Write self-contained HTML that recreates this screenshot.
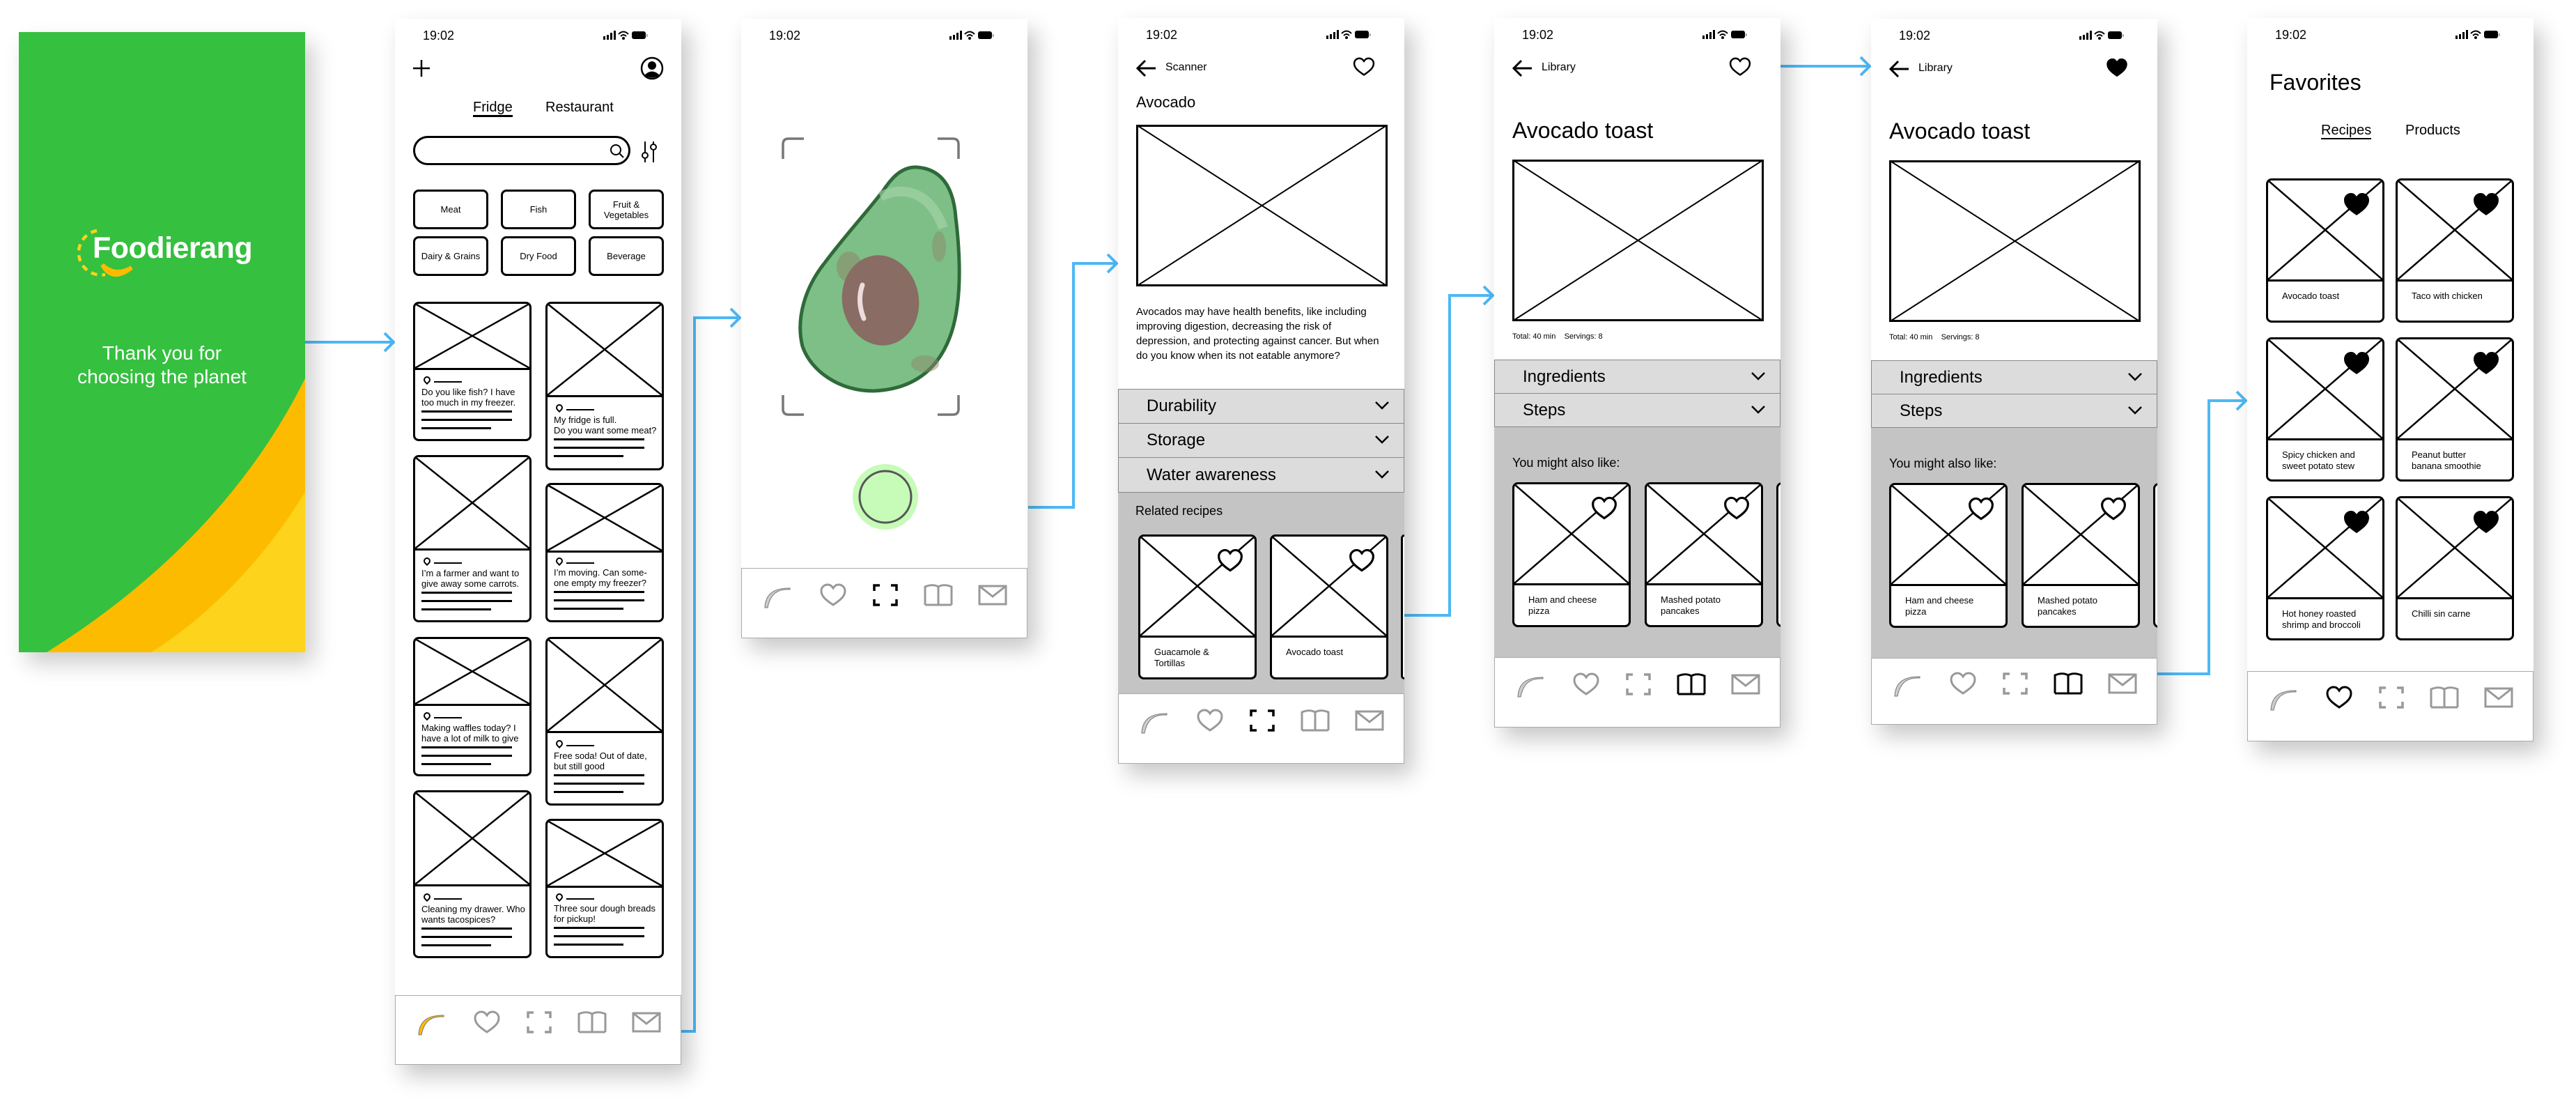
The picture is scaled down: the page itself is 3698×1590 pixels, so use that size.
<!DOCTYPE html>
<html><head><meta charset="utf-8">
<style>
*{box-sizing:border-box;margin:0;padding:0}
body{width:3698px;height:1590px;background:#fff;position:relative;overflow:hidden;font-family:"Liberation Sans",sans-serif;color:#000}
.ph{position:absolute;background:#fff;width:411px;overflow:hidden;box-shadow:12px 16px 30px rgba(0,0,0,.22)}
.ab{position:absolute}
.time{position:absolute;left:40px;top:14px;font-size:18px}
.sb{position:absolute;right:48px;top:16px}
.nav{position:absolute;left:0;right:0;bottom:0;border:1.5px solid #aaa;background:#fff}
.nav svg{position:absolute;width:44px;height:44px}
.card{position:absolute;border:3px solid #000;border-radius:8px;background:#fff;overflow:hidden}
.card svg.x{display:block;width:100%;border-bottom:3px solid #000}
.ft{position:absolute;left:9px;font-size:13px;line-height:15px}
.pin{position:absolute;left:12px;width:10px;height:10px;border:2.5px solid #000;border-radius:50% 50% 50% 0;transform:rotate(-45deg)}
.pl{position:absolute;left:27px;width:40px;height:1.5px;background:#000}
.ln{position:absolute;left:9px;height:3px;background:#000}
.cat{position:absolute;width:108px;height:57px;border:3px solid #000;border-radius:8px;display:flex;align-items:center;justify-content:center;text-align:center;font-size:13px;line-height:15px}
.acc{position:absolute;left:0;width:411px;background:#dcdcdc;border:1px solid #888;font-size:24px;padding-left:40px;display:flex;align-items:center}
.acc svg{position:absolute;right:20px;top:50%;margin-top:-8px}
.rc .t{position:absolute;left:20px;font-size:13px;line-height:16px}
.hrt{position:absolute}
</style></head><body>
<svg width="0" height="0" style="position:absolute">
<defs>
<symbol id="boom" viewBox="0 0 44 44"><path d="M4 40 C5 22 14 12 40 12 L40 14 C22 13 12 20 8 40 Z" fill="currentColor" stroke="#777" stroke-width="1"/></symbol>
<symbol id="heart" viewBox="0 0 44 44"><path d="M22 36 C10 28 5 23 5 16 C5 10 10 7 14 7 C18 7 20 9 22 12 C24 9 26 7 30 7 C34 7 39 10 39 16 C39 23 34 28 22 36Z" fill="none" stroke="currentColor" stroke-width="3"/></symbol>
<symbol id="scan" viewBox="0 0 44 44"><path d="M6 16V8h8M30 8h8v8M38 28v8h-8M14 36H6v-8" fill="none" stroke="currentColor" stroke-width="3.5"/></symbol>
<symbol id="book" viewBox="0 0 44 44"><path d="M3 36V10C10 7 17 7 22 10C27 7 34 7 41 10V36M3 36H41M22 10V36" fill="none" stroke="currentColor" stroke-width="3"/></symbol>
<symbol id="mail" viewBox="0 0 44 44"><path d="M3 9H41V35H3ZM3 9L22 24L41 9" fill="none" stroke="currentColor" stroke-width="3"/></symbol>
<symbol id="hf" viewBox="0 0 44 44"><path d="M22 38 C10 30 4 24 4 16 C4 10 9 6 14 6 C18 6 20 8 22 11 C24 8 26 6 30 6 C35 6 40 10 40 16 C40 24 34 30 22 38Z" fill="#000"/></symbol>
<symbol id="ho" viewBox="0 0 44 44"><path d="M22 38 C10 30 4 24 4 16 C4 10 9 6 14 6 C18 6 20 8 22 11 C24 8 26 6 30 6 C35 6 40 10 40 16 C40 24 34 30 22 38Z" fill="#fff" stroke="#000" stroke-width="3.5"/></symbol>
<symbol id="stat" viewBox="0 0 64 16"><rect x="0" y="9" width="3" height="5" fill="#000"/><rect x="5" y="7" width="3" height="7"/><rect x="10" y="4" width="3" height="10"/><rect x="15" y="1" width="3" height="13"/><path d="M22 6 Q29 -1 36 6 M25 9 Q29 5 33 9" fill="none" stroke="#000" stroke-width="2"/><circle cx="29" cy="12" r="2"/><rect x="41" y="2" width="20" height="11" rx="3" fill="#000"/><rect x="62" y="6" width="1.5" height="4" fill="#888"/></symbol>
</defs></svg>

<!-- connectors -->
<svg class="ab" style="left:0;top:0" width="3698" height="1590">
<g fill="none" stroke="#4db8f5" stroke-width="4">
<path d="M438 491H565M552 478L565 491L552 504"/>
<path d="M773 1480H997V456H1062M1049 443L1062 456L1049 469"/>
<path d="M1476 728H1541V378H1603M1590 365L1603 378L1590 391"/>
<path d="M2016 883H2081V424H2143M2130 411L2143 424L2130 437"/>
<path d="M2556 95H2684M2671 82L2684 95L2671 108"/>
<path d="M3096 967H3171V575H3224M3211 562L3224 575L3211 588"/>
</g></svg>

<!-- splash -->
<div class="ab" style="left:27px;top:46px;width:411px;height:890px;background:#35c03f;overflow:hidden;box-shadow:12px 16px 30px rgba(0,0,0,.2)">
<svg class="ab" style="left:0;top:0" width="411" height="890"><path d="M411 497 C330 660 200 790 40 890 L411 890Z" fill="#fdbb00"/><path d="M411 660 C350 760 270 840 190 890 L411 890Z" fill="#fdd31b"/></svg>
<svg class="ab" style="left:72px;top:282px" width="110" height="80"><path d="M40 3 A30 30 0 1 0 52 66" fill="none" stroke="#fdd31b" stroke-width="4.5" stroke-dasharray="9 7"/><path d="M48 52 Q62 78 90 56 Q66 70 48 52Z" fill="#fdbb00" stroke="#fdbb00" stroke-width="6"/></svg>
<div class="ab" style="left:106px;top:286px;font-size:43px;font-weight:bold;color:#fff;letter-spacing:-0.5px">Foodierang</div>
<div class="ab" style="left:0;width:411px;top:444px;text-align:center;color:#fff;font-size:28px;line-height:34px">Thank you for<br>choosing the planet</div>
</div>

<!-- phone 2 feed -->
<div class="ph" style="left:567px;top:27px;height:1501px">
<div class="time">19:02</div><svg class="sb" width="64" height="16"><use href="#stat"/></svg>
<svg class="ab" style="left:24px;top:57px" width="28" height="28"><path d="M14 2V26M2 14H26" stroke="#000" stroke-width="2.5"/></svg>
<svg class="ab" style="left:352px;top:54px" width="34" height="34"><circle cx="17" cy="17" r="15" fill="none" stroke="#000" stroke-width="2.5"/><circle cx="17" cy="13" r="6"/><path d="M6 27 Q17 16 28 27 Q17 34 6 27Z"/></svg>
<div class="ab" style="left:112px;top:116px;font-size:20px;border-bottom:3px solid #000;line-height:22px">Fridge</div>
<div class="ab" style="left:216px;top:116px;font-size:20px;line-height:22px">Restaurant</div>
<div class="ab" style="left:26px;top:168px;width:312px;height:42px;border:3px solid #000;border-radius:21px"></div>
<svg class="ab" style="left:308px;top:179px" width="22" height="22"><circle cx="9" cy="9" r="7" fill="none" stroke="#000" stroke-width="2"/><path d="M14 14L20 20" stroke="#000" stroke-width="2"/></svg>
<svg class="ab" style="left:350px;top:172px" width="30" height="36"><path d="M9 4V34M21 4V34" stroke="#000" stroke-width="2"/><circle cx="9" cy="24" r="4" fill="#fff" stroke="#000" stroke-width="2"/><circle cx="21" cy="12" r="4" fill="#fff" stroke="#000" stroke-width="2"/></svg>
<div class="cat" style="left:26px;top:245px">Meat</div>
<div class="cat" style="left:152px;top:245px">Fish</div>
<div class="cat" style="left:278px;top:245px">Fruit &amp;<br>Vegetables</div>
<div class="cat" style="left:26px;top:312px">Dairy &amp; Grains</div>
<div class="cat" style="left:152px;top:312px">Dry Food</div>
<div class="cat" style="left:278px;top:312px">Beverage</div>

<div class="card" style="left:26px;top:406px;width:170px;height:200px"><svg class="x" style="height:95px" viewBox="0 0 100 100" preserveAspectRatio="none"><path d="M0 0L100 100M100 0L0 100" stroke="#000" stroke-width="2.5" vector-effect="non-scaling-stroke"/></svg>
<div class="pin" style="top:104px"></div><div class="pl" style="top:111px"></div><div class="ft" style="top:119px">Do you like fish? I have<br>too much in my freezer.</div><div class="ln" style="top:153px;width:130px"></div><div class="ln" style="top:165px;width:130px"></div><div class="ln" style="top:177px;width:100px"></div></div>

<div class="card" style="left:26px;top:626px;width:170px;height:240px"><svg class="x" style="height:134px" viewBox="0 0 100 100" preserveAspectRatio="none"><path d="M0 0L100 100M100 0L0 100" stroke="#000" stroke-width="2.5" vector-effect="non-scaling-stroke"/></svg>
<div class="pin" style="top:144px"></div><div class="pl" style="top:151px"></div><div class="ft" style="top:159px">I’m a farmer and want to<br>give away some carrots.</div><div class="ln" style="top:193px;width:130px"></div><div class="ln" style="top:205px;width:130px"></div><div class="ln" style="top:217px;width:100px"></div></div>

<div class="card" style="left:26px;top:887px;width:170px;height:200px"><svg class="x" style="height:96px" viewBox="0 0 100 100" preserveAspectRatio="none"><path d="M0 0L100 100M100 0L0 100" stroke="#000" stroke-width="2.5" vector-effect="non-scaling-stroke"/></svg>
<div class="pin" style="top:105px"></div><div class="pl" style="top:112px"></div><div class="ft" style="top:120px">Making waffles today? I<br>have a lot of milk to give</div><div class="ln" style="top:154px;width:130px"></div><div class="ln" style="top:166px;width:130px"></div><div class="ln" style="top:178px;width:100px"></div></div>

<div class="card" style="left:26px;top:1107px;width:170px;height:241px"><svg class="x" style="height:135px" viewBox="0 0 100 100" preserveAspectRatio="none"><path d="M0 0L100 100M100 0L0 100" stroke="#000" stroke-width="2.5" vector-effect="non-scaling-stroke"/></svg>
<div class="pin" style="top:145px"></div><div class="pl" style="top:152px"></div><div class="ft" style="top:160px">Cleaning my drawer. Who<br>wants tacospices?</div><div class="ln" style="top:194px;width:130px"></div><div class="ln" style="top:206px;width:130px"></div><div class="ln" style="top:218px;width:100px"></div></div>

<div class="card" style="left:216px;top:406px;width:170px;height:242px"><svg class="x" style="height:134px" viewBox="0 0 100 100" preserveAspectRatio="none"><path d="M0 0L100 100M100 0L0 100" stroke="#000" stroke-width="2.5" vector-effect="non-scaling-stroke"/></svg>
<div class="pin" style="top:144px"></div><div class="pl" style="top:151px"></div><div class="ft" style="top:159px">My fridge is full.<br>Do you want some meat?</div><div class="ln" style="top:193px;width:130px"></div><div class="ln" style="top:205px;width:130px"></div><div class="ln" style="top:217px;width:100px"></div></div>

<div class="card" style="left:216px;top:666px;width:170px;height:200px"><svg class="x" style="height:97px" viewBox="0 0 100 100" preserveAspectRatio="none"><path d="M0 0L100 100M100 0L0 100" stroke="#000" stroke-width="2.5" vector-effect="non-scaling-stroke"/></svg>
<div class="pin" style="top:104px"></div><div class="pl" style="top:111px"></div><div class="ft" style="top:118px">I’m moving. Can some-<br>one empty my freezer?</div><div class="ln" style="top:152px;width:130px"></div><div class="ln" style="top:164px;width:130px"></div><div class="ln" style="top:176px;width:100px"></div></div>

<div class="card" style="left:216px;top:887px;width:170px;height:242px"><svg class="x" style="height:135px" viewBox="0 0 100 100" preserveAspectRatio="none"><path d="M0 0L100 100M100 0L0 100" stroke="#000" stroke-width="2.5" vector-effect="non-scaling-stroke"/></svg>
<div class="pin" style="top:145px"></div><div class="pl" style="top:152px"></div><div class="ft" style="top:160px">Free soda! Out of date,<br>but still good</div><div class="ln" style="top:194px;width:130px"></div><div class="ln" style="top:206px;width:130px"></div><div class="ln" style="top:218px;width:100px"></div></div>

<div class="card" style="left:216px;top:1148px;width:170px;height:200px"><svg class="x" style="height:96px" viewBox="0 0 100 100" preserveAspectRatio="none"><path d="M0 0L100 100M100 0L0 100" stroke="#000" stroke-width="2.5" vector-effect="non-scaling-stroke"/></svg>
<div class="pin" style="top:104px"></div><div class="pl" style="top:111px"></div><div class="ft" style="top:118px">Three sour dough breads<br>for pickup!</div><div class="ln" style="top:152px;width:130px"></div><div class="ln" style="top:164px;width:130px"></div><div class="ln" style="top:176px;width:100px"></div></div>

<div class="nav" style="height:100px">
<svg style="left:29px;top:16px;color:#fdbb00"><use href="#boom"/></svg>
<svg style="left:109px;top:16px;color:#999"><use href="#heart"/></svg>
<svg style="left:184px;top:16px;color:#999"><use href="#scan"/></svg>
<svg style="left:260px;top:16px;color:#999"><use href="#book"/></svg>
<svg style="left:338px;top:16px;color:#999"><use href="#mail"/></svg>
</div>
</div>

<!-- phone 3 camera -->
<div class="ph" style="left:1064px;top:27px;height:889px">
<div class="time">19:02</div><svg class="sb" width="64" height="16"><use href="#stat"/></svg>
<svg class="ab" style="left:0;top:0" width="411" height="780">
<g fill="none" stroke="#777" stroke-width="3.5"><path d="M60 201V180Q60 172 68 172H90M282 172H304Q312 172 312 180V201M312 540V560Q312 568 304 568H282M90 568H68Q60 568 60 560V540"/></g>
<path d="M253 213 C290 216 305 245 308 285 C314 335 318 400 302 450 C282 510 240 532 190 534 C140 534 100 505 88 470 C78 430 92 385 120 350 C150 310 180 278 205 245 C220 222 235 212 253 213Z" fill="#7dbf86" stroke="#2f6a3a" stroke-width="5"/>
<path d="M200 255 C230 240 270 245 290 300" fill="none" stroke="#a9d6ad" stroke-width="14" opacity=".6"/>
<ellipse cx="155" cy="356" rx="18" ry="22" fill="#8d8a6e" opacity=".6"/><ellipse cx="284" cy="327" rx="10" ry="22" fill="#8d8a6e" opacity=".5"/><ellipse cx="264" cy="495" rx="20" ry="12" fill="#8d8a6e" opacity=".5"/>
<ellipse cx="200" cy="404" rx="55" ry="65" fill="#896c64" transform="rotate(-10 200 404)"/>
<path d="M174 382 Q166 405 176 430" stroke="#ecdcdc" stroke-width="7" fill="none" stroke-linecap="round"/>
<circle cx="207" cy="686" r="47" fill="#c6fbb8"/><circle cx="207" cy="686" r="37" fill="#c6fbb8" stroke="#555" stroke-width="3"/>
</svg>
<div class="nav" style="height:101px">
<svg style="left:29px;top:16px;color:#ccc"><use href="#boom"/></svg>
<svg style="left:109px;top:16px;color:#999"><use href="#heart"/></svg>
<svg style="left:184px;top:16px;color:#000"><use href="#scan"/></svg>
<svg style="left:260px;top:16px;color:#999"><use href="#book"/></svg>
<svg style="left:338px;top:16px;color:#999"><use href="#mail"/></svg>
</div>
</div>

<!-- phone 4 scanner result -->
<div class="ph" style="left:1605px;top:26px;height:1070px">
<div class="time">19:02</div><svg class="sb" width="64" height="16"><use href="#stat"/></svg>
<svg class="ab" style="left:24px;top:58px" width="32" height="28"><path d="M30 14H4M15 3L4 14L15 25" fill="none" stroke="#000" stroke-width="3"/></svg>
<div class="ab" style="left:68px;top:62px;font-size:16px">Scanner</div>
<svg class="ab" style="left:335px;top:52px" width="36" height="36" viewBox="0 0 44 44"><use href="#heart" style="color:#000"/></svg>
<div class="ab" style="left:26px;top:108px;font-size:22px">Avocado</div>
<svg class="ab" style="left:26px;top:153px" width="361" height="232"><rect x="1.5" y="1.5" width="358" height="229" fill="none" stroke="#000" stroke-width="3"/><path d="M0 0L361 232M361 0L0 232" stroke="#000" stroke-width="2"/></svg>
<div class="ab" style="left:26px;top:411px;width:360px;font-size:15px;line-height:21px">Avocados may have health benefits, like including improving digestion, decreasing the risk of depression, and protecting against cancer. But when do you know when its not eatable anymore?</div>
<div class="ab" style="left:0;top:681px;width:411px;height:290px;background:#c4c4c4"></div>
<div class="acc" style="top:532px;height:50px">Durability<svg width="22" height="14"><path d="M2 2L11 11L20 2" fill="none" stroke="#000" stroke-width="2.5"/></svg></div>
<div class="acc" style="top:581px;height:50px">Storage<svg width="22" height="14"><path d="M2 2L11 11L20 2" fill="none" stroke="#000" stroke-width="2.5"/></svg></div>
<div class="acc" style="top:630px;height:51px">Water awareness<svg width="22" height="14"><path d="M2 2L11 11L20 2" fill="none" stroke="#000" stroke-width="2.5"/></svg></div>
<div class="ab" style="left:25px;top:697px;font-size:18px">Related recipes</div>
<div class="card rc" style="left:29px;top:741px;width:170px;height:208px"><svg class="x" style="height:145px" viewBox="0 0 100 100" preserveAspectRatio="none"><path d="M0 0L100 100M100 0L0 100" stroke="#000" stroke-width="2.5" vector-effect="non-scaling-stroke"/></svg><svg class="hrt" style="left:109px;top:14px" width="40" height="40"><use href="#ho"/></svg><div class="t" style="top:158px">Guacamole &amp;<br>Tortillas</div></div>
<div class="card rc" style="left:218px;top:741px;width:170px;height:208px"><svg class="x" style="height:145px" viewBox="0 0 100 100" preserveAspectRatio="none"><path d="M0 0L100 100M100 0L0 100" stroke="#000" stroke-width="2.5" vector-effect="non-scaling-stroke"/></svg><svg class="hrt" style="left:109px;top:14px" width="40" height="40"><use href="#ho"/></svg><div class="t" style="top:158px">Avocado toast</div></div>
<div class="ab" style="left:406px;top:741px;width:10px;height:208px;background:#fff;border:3px solid #000;border-radius:8px"></div>
<div class="nav" style="height:101px">
<svg style="left:29px;top:16px;color:#ccc"><use href="#boom"/></svg>
<svg style="left:109px;top:16px;color:#999"><use href="#heart"/></svg>
<svg style="left:184px;top:16px;color:#000"><use href="#scan"/></svg>
<svg style="left:260px;top:16px;color:#999"><use href="#book"/></svg>
<svg style="left:338px;top:16px;color:#999"><use href="#mail"/></svg>
</div>
</div>

<!-- phone 5 library -->
<div class="ph" style="left:2145px;top:26px;height:1018px">
<div class="time">19:02</div><svg class="sb" width="64" height="16"><use href="#stat"/></svg>
<svg class="ab" style="left:24px;top:58px" width="32" height="28"><path d="M30 14H4M15 3L4 14L15 25" fill="none" stroke="#000" stroke-width="3"/></svg>
<div class="ab" style="left:68px;top:62px;font-size:16px">Library</div>
<svg class="ab" style="left:335px;top:52px" width="36" height="36" viewBox="0 0 44 44"><use href="#heart" style="color:#000"/></svg>
<div class="ab" style="left:26px;top:143px;font-size:32px">Avocado toast</div>
<svg class="ab" style="left:26px;top:203px" width="361" height="232"><rect x="1.5" y="1.5" width="358" height="229" fill="none" stroke="#000" stroke-width="3"/><path d="M0 0L361 232M361 0L0 232" stroke="#000" stroke-width="2"/></svg>
<div class="ab" style="left:26px;top:451px;font-size:11px">Total: 40 min &nbsp;&nbsp; Servings: 8</div>
<div class="ab" style="left:0;top:587px;width:411px;height:332px;background:#c4c4c4"></div>
<div class="acc" style="top:490px;height:49px">Ingredients<svg width="22" height="14"><path d="M2 2L11 11L20 2" fill="none" stroke="#000" stroke-width="2.5"/></svg></div>
<div class="acc" style="top:538px;height:49px">Steps<svg width="22" height="14"><path d="M2 2L11 11L20 2" fill="none" stroke="#000" stroke-width="2.5"/></svg></div>
<div class="ab" style="left:26px;top:628px;font-size:18px">You might also like:</div>
<div class="card rc" style="left:26px;top:666px;width:170px;height:208px"><svg class="x" style="height:145px" viewBox="0 0 100 100" preserveAspectRatio="none"><path d="M0 0L100 100M100 0L0 100" stroke="#000" stroke-width="2.5" vector-effect="non-scaling-stroke"/></svg><svg class="hrt" style="left:109px;top:14px" width="40" height="40"><use href="#ho"/></svg><div class="t" style="top:158px">Ham and cheese<br>pizza</div></div>
<div class="card rc" style="left:216px;top:666px;width:170px;height:208px"><svg class="x" style="height:145px" viewBox="0 0 100 100" preserveAspectRatio="none"><path d="M0 0L100 100M100 0L0 100" stroke="#000" stroke-width="2.5" vector-effect="non-scaling-stroke"/></svg><svg class="hrt" style="left:109px;top:14px" width="40" height="40"><use href="#ho"/></svg><div class="t" style="top:158px">Mashed potato<br>pancakes</div></div>
<div class="ab" style="left:405px;top:666px;width:20px;height:208px;background:#fff;border:3px solid #000;border-radius:8px"></div>
<div class="nav" style="height:101px">
<svg style="left:29px;top:16px;color:#ccc"><use href="#boom"/></svg>
<svg style="left:109px;top:16px;color:#999"><use href="#heart"/></svg>
<svg style="left:184px;top:16px;color:#999"><use href="#scan"/></svg>
<svg style="left:260px;top:16px;color:#000"><use href="#book"/></svg>
<svg style="left:338px;top:16px;color:#999"><use href="#mail"/></svg>
</div>
</div>

<!-- phone 6 library favorited -->
<div class="ph" style="left:2686px;top:27px;height:1013px">
<div class="time">19:02</div><svg class="sb" width="64" height="16"><use href="#stat"/></svg>
<svg class="ab" style="left:24px;top:58px" width="32" height="28"><path d="M30 14H4M15 3L4 14L15 25" fill="none" stroke="#000" stroke-width="3"/></svg>
<div class="ab" style="left:68px;top:62px;font-size:16px">Library</div>
<svg class="ab" style="left:335px;top:52px" width="36" height="36"><use href="#hf"/></svg>
<div class="ab" style="left:26px;top:143px;font-size:32px">Avocado toast</div>
<svg class="ab" style="left:26px;top:203px" width="361" height="232"><rect x="1.5" y="1.5" width="358" height="229" fill="none" stroke="#000" stroke-width="3"/><path d="M0 0L361 232M361 0L0 232" stroke="#000" stroke-width="2"/></svg>
<div class="ab" style="left:26px;top:451px;font-size:11px">Total: 40 min &nbsp;&nbsp; Servings: 8</div>
<div class="ab" style="left:0;top:587px;width:411px;height:332px;background:#c4c4c4"></div>
<div class="acc" style="top:490px;height:49px">Ingredients<svg width="22" height="14"><path d="M2 2L11 11L20 2" fill="none" stroke="#000" stroke-width="2.5"/></svg></div>
<div class="acc" style="top:538px;height:49px">Steps<svg width="22" height="14"><path d="M2 2L11 11L20 2" fill="none" stroke="#000" stroke-width="2.5"/></svg></div>
<div class="ab" style="left:26px;top:628px;font-size:18px">You might also like:</div>
<div class="card rc" style="left:26px;top:666px;width:170px;height:208px"><svg class="x" style="height:145px" viewBox="0 0 100 100" preserveAspectRatio="none"><path d="M0 0L100 100M100 0L0 100" stroke="#000" stroke-width="2.5" vector-effect="non-scaling-stroke"/></svg><svg class="hrt" style="left:109px;top:14px" width="40" height="40"><use href="#ho"/></svg><div class="t" style="top:158px">Ham and cheese<br>pizza</div></div>
<div class="card rc" style="left:216px;top:666px;width:170px;height:208px"><svg class="x" style="height:145px" viewBox="0 0 100 100" preserveAspectRatio="none"><path d="M0 0L100 100M100 0L0 100" stroke="#000" stroke-width="2.5" vector-effect="non-scaling-stroke"/></svg><svg class="hrt" style="left:109px;top:14px" width="40" height="40"><use href="#ho"/></svg><div class="t" style="top:158px">Mashed potato<br>pancakes</div></div>
<div class="ab" style="left:405px;top:666px;width:20px;height:208px;background:#fff;border:3px solid #000;border-radius:8px"></div>
<div class="nav" style="height:96px">
<svg style="left:29px;top:14px;color:#ccc"><use href="#boom"/></svg>
<svg style="left:109px;top:14px;color:#999"><use href="#heart"/></svg>
<svg style="left:184px;top:14px;color:#999"><use href="#scan"/></svg>
<svg style="left:260px;top:14px;color:#000"><use href="#book"/></svg>
<svg style="left:338px;top:14px;color:#999"><use href="#mail"/></svg>
</div>
</div>

<!-- phone 7 favorites -->
<div class="ph" style="left:3226px;top:26px;height:1038px">
<div class="time">19:02</div><svg class="sb" width="64" height="16"><use href="#stat"/></svg>
<div class="ab" style="left:32px;top:74px;font-size:32px">Favorites</div>
<div class="ab" style="left:106px;top:150px;font-size:20px;line-height:22px;border-bottom:2.5px solid #000">Recipes</div>
<div class="ab" style="left:227px;top:150px;font-size:20px;line-height:22px">Products</div>

<div class="card rc" style="left:27px;top:230px;width:170px;height:207px"><svg class="x" style="height:145px" viewBox="0 0 100 100" preserveAspectRatio="none"><path d="M0 0L100 100M100 0L0 100" stroke="#000" stroke-width="2.5" vector-effect="non-scaling-stroke"/></svg><svg class="hrt" style="left:105px;top:12px" width="44" height="44"><use href="#hf"/></svg><div class="t" style="top:158px">Avocado toast</div></div>
<div class="card rc" style="left:213px;top:230px;width:170px;height:207px"><svg class="x" style="height:145px" viewBox="0 0 100 100" preserveAspectRatio="none"><path d="M0 0L100 100M100 0L0 100" stroke="#000" stroke-width="2.5" vector-effect="non-scaling-stroke"/></svg><svg class="hrt" style="left:105px;top:12px" width="44" height="44"><use href="#hf"/></svg><div class="t" style="top:158px">Taco with chicken</div></div>
<div class="card rc" style="left:27px;top:458px;width:170px;height:207px"><svg class="x" style="height:145px" viewBox="0 0 100 100" preserveAspectRatio="none"><path d="M0 0L100 100M100 0L0 100" stroke="#000" stroke-width="2.5" vector-effect="non-scaling-stroke"/></svg><svg class="hrt" style="left:105px;top:12px" width="44" height="44"><use href="#hf"/></svg><div class="t" style="top:158px">Spicy chicken and<br>sweet potato stew</div></div>
<div class="card rc" style="left:213px;top:458px;width:170px;height:207px"><svg class="x" style="height:145px" viewBox="0 0 100 100" preserveAspectRatio="none"><path d="M0 0L100 100M100 0L0 100" stroke="#000" stroke-width="2.5" vector-effect="non-scaling-stroke"/></svg><svg class="hrt" style="left:105px;top:12px" width="44" height="44"><use href="#hf"/></svg><div class="t" style="top:158px">Peanut butter<br>banana smoothie</div></div>
<div class="card rc" style="left:27px;top:686px;width:170px;height:207px"><svg class="x" style="height:145px" viewBox="0 0 100 100" preserveAspectRatio="none"><path d="M0 0L100 100M100 0L0 100" stroke="#000" stroke-width="2.5" vector-effect="non-scaling-stroke"/></svg><svg class="hrt" style="left:105px;top:12px" width="44" height="44"><use href="#hf"/></svg><div class="t" style="top:158px">Hot honey roasted<br>shrimp and broccoli</div></div>
<div class="card rc" style="left:213px;top:686px;width:170px;height:207px"><svg class="x" style="height:145px" viewBox="0 0 100 100" preserveAspectRatio="none"><path d="M0 0L100 100M100 0L0 100" stroke="#000" stroke-width="2.5" vector-effect="non-scaling-stroke"/></svg><svg class="hrt" style="left:105px;top:12px" width="44" height="44"><use href="#hf"/></svg><div class="t" style="top:158px">Chilli sin carne</div></div>
<div class="nav" style="height:101px">
<svg style="left:29px;top:15px;color:#ccc"><use href="#boom"/></svg>
<svg style="left:109px;top:15px;color:#000"><use href="#heart"/></svg>
<svg style="left:184px;top:15px;color:#999"><use href="#scan"/></svg>
<svg style="left:260px;top:15px;color:#999"><use href="#book"/></svg>
<svg style="left:338px;top:15px;color:#999"><use href="#mail"/></svg>
</div>
</div>
</body></html>
